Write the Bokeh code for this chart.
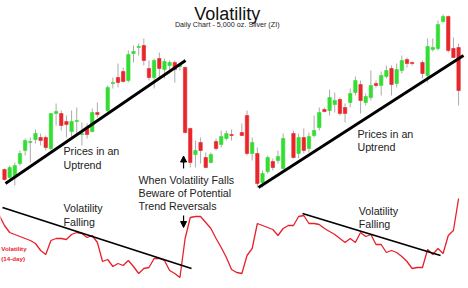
from bokeh.plotting import figure
from bokeh.models import Range1d, ColumnDataSource, Arrow, NormalHead
from bokeh.core.properties import value
from bokeh.embed import file_html
from bokeh.resources import INLINE

# ---------------- data ----------------
days = list(range(0, 19)) + list(range(20, 45)) + list(range(46, 55)) + list(range(56, 80)) + list(range(81, 89))

opens = [13.1, 12.3, 12.4, 13.7, 15.0, 15.8, 16.1, 16.3, 16.3, 15.2, 18.7, 18.7, 17.9, 16.9, 17.9, 16.6, 17.2, 16.9, 18.8,
         19.0, 21.7, 22.3, 22.9, 22.0, 24.7, 25.3, 25.5, 23.2, 22.3, 24.2, 23.1, 23.5, 23.8, 23.4, 23.3, 17.2, 14.6, 15.8, 14.3, 13.8, 15.9, 15.6, 16.2, 16.6,
         16.8, 18.5, 14.7, 14.7, 11.8, 12.9, 13.9, 14.0, 13.2,
         16.7, 14.7, 16.3, 15.2, 16.5, 17.3, 19.1, 19.0, 19.6, 20.1, 19.3, 19.8, 20.8, 21.6, 19.8, 20.3, 21.7, 21.5, 22.4, 23.2, 21.7, 23.0, 24.1, 23.8,
         23.8, 22.5, 25.1, 25.2, 27.9, 28.4, 25.2, 25.3]
closes = [12.1, 13.3, 13.5, 14.7, 16.0, 15.9, 16.7, 16.0, 15.3, 18.7, 18.9, 17.5, 17.6, 17.9, 18.0, 16.7, 16.6, 18.8, 18.6,
          21.3, 21.8, 21.8, 21.9, 24.6, 24.9, 25.4, 24.0, 22.3, 24.0, 23.2, 23.9, 23.8, 23.1, 23.5, 16.8, 13.8, 15.0, 15.0, 13.3, 14.6, 15.2, 16.4, 16.7, 16.5,
          16.5, 14.7, 15.8, 11.7, 12.7, 14.3, 13.3, 14.4, 16.2,
          14.3, 16.3, 15.0, 16.4, 17.0, 18.8, 18.9, 20.3, 20.0, 18.7, 18.7, 20.7, 22.0, 20.0, 20.4, 21.5, 21.5, 22.5, 23.0, 21.6, 23.1, 24.0, 23.7, 23.7,
          22.7, 25.4, 25.3, 27.6, 28.4, 25.0, 24.3, 21.0]
highs = [13.2, 13.5, 13.8, 15.0, 16.2, 16.3, 17.1, 16.7, 16.5, 18.7, 19.7, 19.0, 18.5, 19.0, 19.3, 17.8, 17.7, 19.2, 19.8,
         21.5, 22.3, 23.7, 23.3, 25.0, 25.5, 25.7, 26.2, 24.0, 24.2, 24.8, 24.2, 24.0, 24.0, 23.7, 23.4, 17.3, 16.0, 16.3, 14.8, 14.8, 16.2, 17.0, 17.0, 17.1,
         17.7, 19.0, 16.3, 15.3, 13.0, 14.5, 14.2, 15.0, 16.7,
         17.0, 16.7, 17.2, 16.8, 18.5, 19.3, 19.3, 21.1, 20.8, 20.3, 19.7, 21.2, 22.4, 22.0, 20.7, 23.0, 22.0, 22.9, 23.5, 23.5, 23.7, 24.5, 24.3, 23.9,
         24.0, 26.2, 26.2, 28.0, 28.6, 28.5, 26.3, 25.7]
lows = [12.0, 12.2, 11.5, 13.5, 14.5, 13.8, 15.7, 15.5, 15.0, 15.0, 17.5, 17.0, 16.3, 16.3, 16.7, 15.5, 16.2, 16.8, 18.3,
        18.8, 21.2, 21.3, 21.8, 21.8, 23.8, 24.5, 23.5, 22.0, 21.2, 22.2, 22.2, 22.7, 21.8, 23.0, 16.7, 13.3, 13.3, 13.7, 13.3, 13.7, 15.0, 15.3, 16.0, 16.0,
        16.5, 14.5, 14.0, 11.3, 11.3, 12.7, 13.0, 13.7, 13.1,
        14.2, 14.2, 14.7, 14.8, 16.3, 17.0, 18.8, 18.5, 18.8, 18.5, 17.8, 19.3, 20.5, 18.7, 19.5, 20.0, 21.3, 20.5, 22.2, 20.5, 21.3, 22.7, 23.3, 23.5,
        22.2, 21.8, 24.9, 25.0, 27.8, 24.8, 24.3, 19.5]

vol_days = list(range(-1, 89))
vol_values = [36.5, 31.5, 28, 27, 26, 25, 24, 22.5, 19, 17, 24, 25, 25, 24.5, 27, 28, 27.5, 25.5, 26.5, 23,
              13.5, 14.5, 11, 12.5, 11.5, 14, 11, 7.5, 10, 10.5, 15, 15, 14, 9, 7.5, 5.5, 25, 35.5, 36, 36,
              33, 30, 25, 20.5, 15.5, 9.5, 8, 7.5, 16.5, 20, 32.5, 31.5, 30.5, 29.5, 26.5, 30, 31.5, 31.5, 36, 36.5,
              32.5, 32.5, 32, 30, 28.5, 27, 25, 23, 25, 23, 28, 26, 27, 22, 22, 18, 19, 18, 16, 13.5,
              10, 10.5, 10.5, 19.5, 17, 20, 17.5, 26.5, 29, 45]

# trend lines (price) and volatility trend lines
trend1_days, trend1_prices = [0.19, 35.08], [11.7, 24.0]
trend2_days, trend2_prices = [49.22, 88.95], [11.3, 24.5]
vtrend1_days, vtrend1_vals = [-0.39, 36.24], [40.5, 10.0]
vtrend2_days, vtrend2_vals = [57.75, 84.5], [37.5, 16.5]

GREEN = "#33dd33"
RED = "#e8262b"

colors = [GREEN if c >= o else RED for o, c in zip(opens, closes)]
tops = [max(o, c) for o, c in zip(opens, closes)]
bottoms = [min(o, c) for o, c in zip(opens, closes)]
src = ColumnDataSource(dict(day=days, high=highs, low=lows, top=tops, bottom=bottoms, color=colors))

p = figure(width=468, height=288, x_range=Range1d(-0.775, 89.92), y_range=Range1d(1.2, 30),
           output_backend="svg", toolbar_location=None, x_axis_location=None, y_axis_location=None,
           min_border=0, outline_line_color=None, background_fill_color="white", border_fill_color="white")
p.grid.visible = False
p.extra_y_ranges = {"vol": Range1d(0, 144)}

p.segment(x0="day", y0="high", x1="day", y1="low", line_color="#ababab", line_width=1, source=src)
p.vbar(x="day", width=0.66, top="top", bottom="bottom", fill_color="color", line_color="color",
       line_width=0.6, source=src)

p.line(trend1_days, trend1_prices, line_color="black", line_width=2.8)
p.line(trend2_days, trend2_prices, line_color="black", line_width=2.8)

p.line(vol_days, vol_values, y_range_name="vol", line_color="#e8202a", line_width=1.3)
p.line(vtrend1_days, vtrend1_vals, y_range_name="vol", line_color="black", line_width=1.8)
p.line(vtrend2_days, vtrend2_vals, y_range_name="vol", line_color="black", line_width=1.8)

FONT = value("Liberation Sans")

p.text(x=[43.16], y=[28.7], text=["Volatility"], text_font=FONT, text_font_size="18px",
       text_color="#111111", text_align="center", text_baseline="alphabetic")
p.text(x=[43.16], y=[27.57], text=["Daily Chart - 5,000 oz. Silver (ZI)"], text_font=FONT,
       text_font_size="7.2px", text_color="#222222", text_align="center", text_baseline="middle")

ann_x = [11.43, 11.43, 68.4, 68.4, 25.97, 25.97, 25.97, 11.43, 11.43, 68.66, 68.66]
ann_y = [15.0, 13.6, 16.7, 15.4, 12.1, 10.8, 9.5, 9.3, 7.9, 8.93, 7.67]
ann_t = ["Prices in an", "Uptrend", "Prices in an", "Uptrend",
         "When Volatility Falls", "Beware of Potential", "Trend Reversals",
         "Volatility", "Falling", "Volatility", "Falling"]
p.text(x=ann_x, y=ann_y, text=ann_t, text_font=FONT, text_font_size="10.7px",
       text_color="#222222", text_align="left", text_baseline="middle")

p.text(x=[-0.62, -0.62], y=[5.2, 4.2], text=["Volatility", "(14-day)"], text_font=FONT,
       text_font_size="6.2px", text_font_style="bold", text_color="#e8202a",
       text_align="left", text_baseline="middle")

p.add_layout(Arrow(end=NormalHead(size=6, fill_color="black", line_color="black"),
                   x_start=34.7, y_start=13.2, x_end=34.7, y_end=14.45, line_width=1.2))
p.add_layout(Arrow(end=NormalHead(size=6, fill_color="black", line_color="black"),
                   x_start=34.7, y_start=8.5, x_end=34.7, y_end=7.3, line_width=1.2))

open("out.html", "w").write(file_html(p, INLINE))
